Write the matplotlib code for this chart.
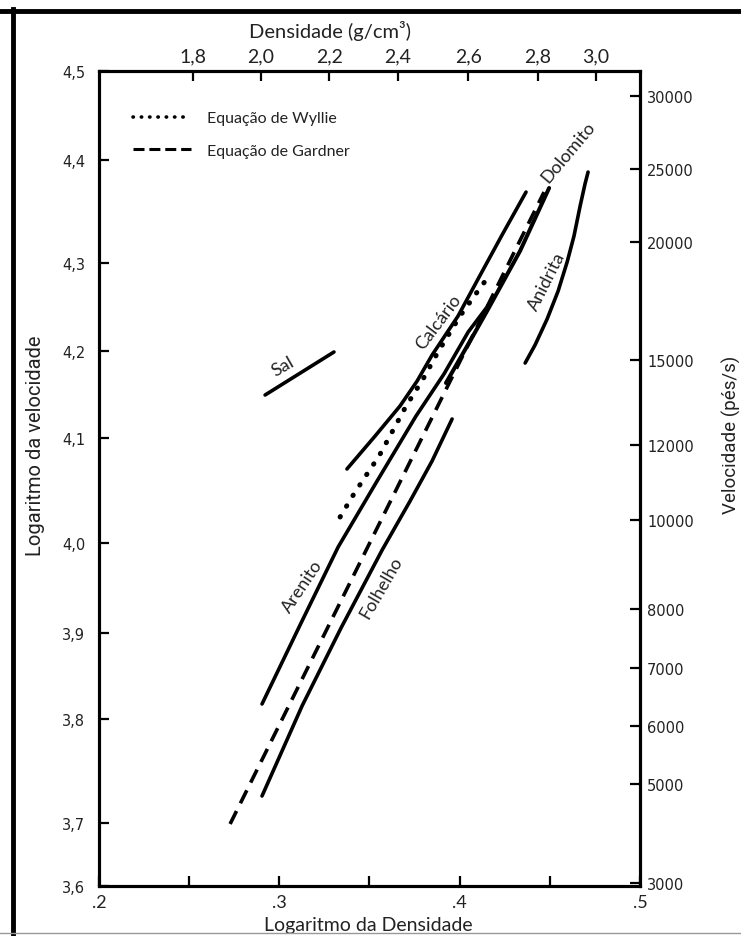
import matplotlib.pyplot as plt
from matplotlib.lines import Line2D

# Log density (x) vs log velocity (y) for common lithologies
sal_x = [0.2921, 0.3303]
sal_y = [4.1422, 4.1897]

calcario_x = [0.3375, 0.3531, 0.3669, 0.3764, 0.3847, 0.3991, 0.4108, 0.4235, 0.4368]
calcario_y = [4.0605, 4.0969, 4.1300, 4.1576, 4.1863, 4.2294, 4.2725, 4.3189, 4.3663]

wyllie_x = [0.3337, 0.3403, 0.3475, 0.3553, 0.3625, 0.3703, 0.3797, 0.3880, 0.4002, 0.4085, 0.4158]
wyllie_y = [4.0075, 4.0296, 4.0516, 4.0748, 4.1013, 4.1300, 4.1598, 4.1897, 4.2294, 4.2526, 4.2725]

arenito_x = [0.2904, 0.3115, 0.3326, 0.3542, 0.3758, 0.3913, 0.4047, 0.4185]
arenito_y = [3.8010, 3.8882, 3.9743, 4.0472, 4.1190, 4.1654, 4.2117, 4.2482]

dolomito_x = [0.3924, 0.4058, 0.4152, 0.4335, 0.4496]
dolomito_y = [4.1555, 4.2019, 4.2350, 4.3013, 4.3708]

gardner_x = [0.2727, 0.4468]
gardner_y = [3.6685, 4.3663]

folhelho_x = [0.2904, 0.3126, 0.3342, 0.3570, 0.3725, 0.3847, 0.3958]
folhelho_y = [3.6994, 3.7988, 3.8849, 3.9710, 4.0251, 4.0693, 4.1157]

anidrita_x = [0.4363, 0.4418, 0.4485, 0.4546, 0.4596, 0.4634, 0.4668, 0.4695, 0.4712]
anidrita_y = [4.1775, 4.1974, 4.2261, 4.2570, 4.2891, 4.3178, 4.3509, 4.3752, 4.3884]

# curve labels: text, x, y, angle
curve_labels = [
    ("Sal", 0.3021, 4.1742, 30),
    ("Calcário", 0.3880, 4.2239, 53),
    ("Dolomito", 0.4601, 4.4116, 50),
    ("Anidrita", 0.4485, 4.2681, 63),
    ("Arenito", 0.3126, 3.9313, 56),
    ("Folhelho", 0.3564, 3.9302, 60),
]

# axis ticks
logdens_major = [0.2, 0.3, 0.4, 0.5]
logdens_labels = [".2", ".3", ".4", ".5"]
logdens_minor = [0.25, 0.35, 0.45]

logvel_ticks = [3.6, 3.6696, 3.7844, 3.8794, 3.9788, 4.0947, 4.191, 4.2885, 4.402, 4.5]
logvel_labels = ["3,6", "3,7", "3,8", "3,9", "4,0", "4,1", "4,2", "4,3", "4,4", "4,5"]

dens_ticks = [0.2519, 0.2897, 0.3278, 0.3658, 0.4047, 0.4433, 0.4755]
dens_labels = ["1,8", "2,0", "2,2", "2,4", "2,6", "2,8", "3,0"]

vel_ticks = [3.6033, 3.7126, 3.7767, 3.8408, 3.9059, 4.0042, 4.0870, 4.1808, 4.3111, 4.3917, 4.4723]
vel_labels = ["3000", "5000", "6000", "7000", "8000", "10000", "12000", "15000", "20000", "25000", "30000"]

SANS = ["Lato", "DejaVu Sans"]
NARROW = ["Roboto", "DejaVu Sans"]
TXT = "#222222"

fig = plt.figure(figsize=(7.41, 9.37), dpi=100)
ax = fig.add_axes([99 / 741, 50 / 937, 541 / 741, 815 / 937])
ax.set_xlim(0.2, 0.5)
ax.set_ylim(3.6, 4.5)

lw = 2.6
ax.plot(sal_x, sal_y, color="black", lw=lw, solid_capstyle="round")
ax.plot(calcario_x, calcario_y, color="black", lw=lw, solid_capstyle="round")
ax.plot(arenito_x, arenito_y, color="black", lw=lw, solid_capstyle="round")
ax.plot(dolomito_x, dolomito_y, color="black", lw=2.9, solid_capstyle="round")
ax.plot(folhelho_x, folhelho_y, color="black", lw=lw, solid_capstyle="round")
ax.plot(anidrita_x, anidrita_y, color="black", lw=lw, solid_capstyle="round")
ax.plot(wyllie_x, wyllie_y, color="black", lw=3.6, linestyle=(0, (0.1, 2.4)),
        dash_capstyle="round")
ax.plot(gardner_x, gardner_y, color="black", lw=lw, linestyle=(0, (4.0, 2.4)),
        dash_capstyle="butt")

for txt, x, y, ang in curve_labels:
    ax.text(x, y, txt, rotation=ang, rotation_mode="anchor", ha="center", va="center",
            fontsize=13, family=SANS, color=TXT)

# legend with its own denser patterns
leg_handles = [
    Line2D([], [], color="black", lw=2.6, linestyle=(0, (0.1, 2.2)), dash_capstyle="round"),
    Line2D([], [], color="black", lw=2.2, linestyle=(0, (3.6, 1.6)), dash_capstyle="butt"),
]
leg = ax.legend(leg_handles, ["Equação de Wyllie", "Equação de Gardner"],
                loc="upper left", bbox_to_anchor=(0.063, 0.951), frameon=False,
                borderpad=0, borderaxespad=0, handlelength=3.6, handletextpad=1.0,
                labelspacing=1.15, prop={"family": SANS, "size": 11.5})
for t in leg.get_texts():
    t.set_color(TXT)

for sp in ax.spines.values():
    sp.set_linewidth(2.2)

tick_kw = dict(direction="in", length=7, width=1.6, color="black", labelcolor=TXT)

ax.set_xticks(logdens_major)
ax.set_xticklabels(logdens_labels, family=SANS, fontsize=13)
ax.set_xticks(logdens_minor, minor=True)
ax.tick_params(axis="x", which="both", pad=6, **tick_kw)
ax.set_yticks(logvel_ticks)
ax.set_yticklabels(logvel_labels, fontsize=10.5)
ax.tick_params(axis="y", pad=10, **tick_kw)

ax.set_xlabel("Logaritmo da Densidade", family=SANS, fontsize=14, color=TXT)
ax.xaxis.set_label_coords(0.497, -0.037)
ax.set_ylabel("Logaritmo da velocidade", family=NARROW, fontsize=14.5, color=TXT)
ax.yaxis.set_label_coords(-0.100, 0.542)

ax_top = ax.twiny()
ax_top.set_xlim(ax.get_xlim())
ax_top.set_xticks(dens_ticks)
ax_top.set_xticklabels(dens_labels, family=SANS, fontsize=14)
ax_top.tick_params(axis="x", pad=5, **tick_kw)
ax_top.set_xlabel("Densidade (g/cm³)", family=SANS, fontsize=14.5, color=TXT)
ax_top.xaxis.set_label_coords(0.427, 1.042)

ax_right = ax.twinx()
ax_right.set_ylim(ax.get_ylim())
ax_right.set_yticks(vel_ticks)
ax_right.set_yticklabels(vel_labels, fontsize=10.5)
ax_right.tick_params(axis="y", pad=5, **tick_kw)
ax_right.set_ylabel("Velocidade (pés/s)", family=NARROW, fontsize=13.5, color=TXT)
ax_right.yaxis.set_label_coords(1.1516, 0.555)

for a in (ax_top, ax_right):
    for sp in a.spines.values():
        sp.set_linewidth(2.2)

# page frame bars
fig.add_artist(Line2D([0, 1], [1 - 12 / 937, 1 - 12 / 937], color="black", lw=3.5,
                      transform=fig.transFigure))
fig.add_artist(Line2D([13 / 741, 13 / 741], [0, 1 - 10 / 937], color="black", lw=3.5,
                      transform=fig.transFigure))
fig.add_artist(Line2D([0, 1], [3 / 937, 3 / 937], color="#999999", lw=1.0,
                      transform=fig.transFigure))

fig.savefig("out.png", dpi=100)
